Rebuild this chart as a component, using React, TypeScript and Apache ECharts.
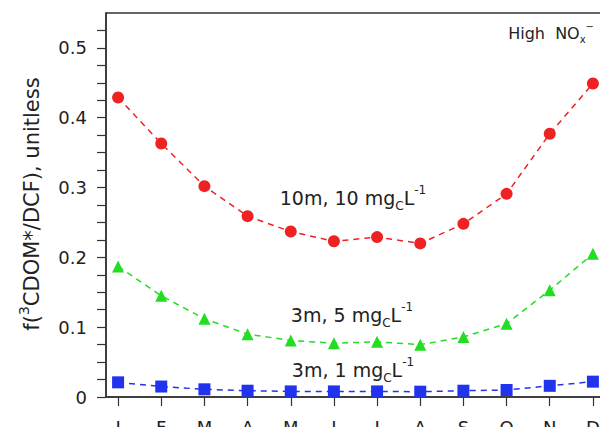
import React, { useEffect, useRef } from "react";
import * as echarts from "echarts";

const months = ["J", "F", "M", "A", "M", "J", "J", "A", "S", "O", "N", "D"];
const monthIndex = [1, 2, 3, 4, 5, 6, 7, 8, 9, 10, 11, 12];
const red10m10mg = [0.429, 0.363, 0.302, 0.259, 0.237, 0.223, 0.229, 0.220, 0.248, 0.291, 0.377, 0.449];
const green3m5mg = [0.187, 0.145, 0.112, 0.090, 0.081, 0.077, 0.079, 0.075, 0.086, 0.105, 0.153, 0.205];
const blue3m1mg = [0.021, 0.015, 0.011, 0.009, 0.008, 0.008, 0.008, 0.0076, 0.009, 0.010, 0.016, 0.022];
const yLabelValues = [0, 0.1, 0.2, 0.3, 0.4, 0.5];
const yTickValues = [0, 0.025, 0.05, 0.075, 0.1, 0.125, 0.15, 0.175, 0.2, 0.225, 0.25, 0.275, 0.3, 0.325, 0.35, 0.375, 0.4, 0.425, 0.45, 0.475, 0.5, 0.525];

const FONT = "DejaVu Sans";
const TXT = "#222";

function pairs(vals: number[]) {
  return vals.map((v, i) => [monthIndex[i], v]);
}

function labelRich(fs: number) {
  const lh = Math.round(fs * 1.45);
  return {
    m: { fontSize: fs, fontFamily: FONT, fill: TXT, verticalAlign: "middle", lineHeight: lh },
    sub: { fontSize: Math.round(fs * 0.65), fontFamily: FONT, fill: TXT, verticalAlign: "bottom", lineHeight: lh },
    sup: { fontSize: Math.round(fs * 0.65), fontFamily: FONT, fill: TXT, verticalAlign: "top", lineHeight: lh },
  };
}

export default function App() {
  const ref = useRef<HTMLDivElement>(null);
  useEffect(() => {
    if (!ref.current) return;
    const chart = echarts.init(ref.current, null, { renderer: "svg" });
    const mk = (name: string, data: number[], color: string, symbol: string, size: number) => ({
      name,
      type: "line",
      data: pairs(data),
      symbol,
      symbolSize: size,
      itemStyle: { color },
      lineStyle: { color, width: 1.5, type: [6, 5] },
      z: 3,
    });
    chart.setOption({
      animation: false,
      backgroundColor: "#fff",
      grid: {
        left: 106,
        top: 13,
        bottom: 30,
        width: 499,
        show: true,
        borderColor: "#333",
        borderWidth: 1.5,
        containLabel: false,
        outerBoundsMode: "none",
      },
      xAxis: {
        type: "value",
        min: 0.72,
        max: 12.28,
        axisLine: { show: true, lineStyle: { color: "#333", width: 1.5 } },
        axisTick: { show: true, customValues: monthIndex, length: 9, lineStyle: { color: "#333", width: 1.2 } },
        axisLabel: {
          customValues: monthIndex,
          formatter: (v: number) => months[Math.round(v) - 1] ?? "",
          fontSize: 18,
          fontFamily: FONT,
          color: TXT,
          margin: 21,
        },
        splitLine: { show: false },
      },
      yAxis: {
        type: "value",
        min: 0,
        max: 0.55,
        axisLine: { show: true, lineStyle: { color: "#333", width: 1.5 } },
        axisTick: { show: true, customValues: yTickValues, length: 9, lineStyle: { color: "#333", width: 1.2 } },
        axisLabel: {
          customValues: yLabelValues,
          fontSize: 18,
          fontFamily: FONT,
          color: TXT,
          margin: 19,
        },
        splitLine: { show: false },
      },
      series: [
        mk("10m, 10 mgC/L", red10m10mg, "#ee2222", "circle", 12),
        mk("3m, 5 mgC/L", green3m5mg, "#22dd22", "triangle", 12),
        mk("3m, 1 mgC/L", blue3m1mg, "#2233ee", "rect", 12),
      ],
      graphic: [
        {
          type: "text",
          x: 32,
          y: 204,
          rotation: Math.PI / 2,
          style: {
            text: "{m|f(}{sup|3}{m|CDOM*/DCF), unitless}",
            align: "center",
            verticalAlign: "middle",
            rich: labelRich(21),
          },
        },
        {
          type: "text",
          x: 353,
          y: 198,
          style: {
            text: "{m|10m, 10 mg}{sub|C}{m|L}{sup|-1}",
            align: "center",
            verticalAlign: "middle",
            rich: labelRich(19),
          },
        },
        {
          type: "text",
          x: 352,
          y: 315,
          style: {
            text: "{m|3m, 5 mg}{sub|C}{m|L}{sup|-1}",
            align: "center",
            verticalAlign: "middle",
            rich: labelRich(19),
          },
        },
        {
          type: "text",
          x: 353,
          y: 370,
          style: {
            text: "{m|3m, 1 mg}{sub|C}{m|L}{sup|-1}",
            align: "center",
            verticalAlign: "middle",
            rich: labelRich(19),
          },
        },
        {
          type: "text",
          x: 594,
          y: 33,
          style: {
            text: "{m|High  NO}{sub|x}{sup|\u2212}",
            align: "right",
            verticalAlign: "middle",
            rich: labelRich(16),
          },
        },
      ],
    });
    return () => chart.dispose();
  }, []);
  return <div ref={ref} style={{ position: "fixed", left: 0, top: 0, width: 600, height: 427 }} />;
}
